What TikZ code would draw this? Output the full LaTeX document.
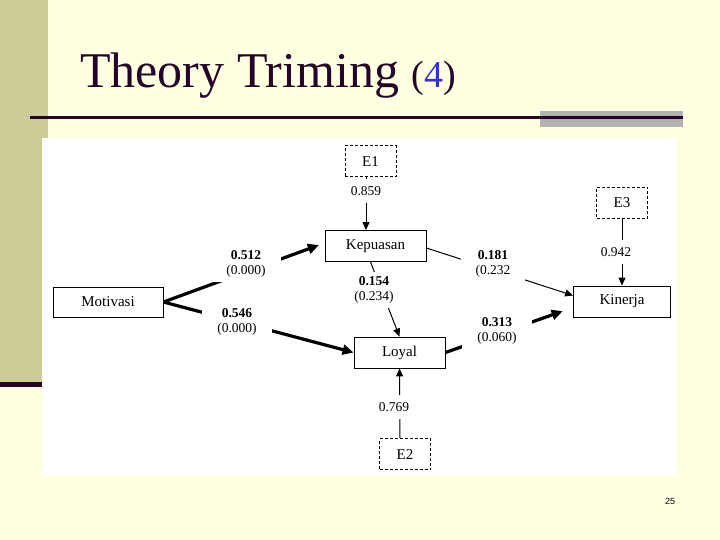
\documentclass[tikz,border=0pt]{standalone}
\usepackage{fontspec}
\setmainfont{Liberation Serif}
\setsansfont{Liberation Sans}
\usetikzlibrary{positioning,arrows.meta}

\definecolor{slidebg}{RGB}{255,255,226}
\definecolor{sidebar}{RGB}{204,204,153}
\definecolor{ink}{RGB}{36,4,40}
\definecolor{greybar}{RGB}{178,178,178}
\definecolor{numblue}{RGB}{51,51,204}

\tikzset{
  var/.style={rectangle, draw, line width=0.9pt, minimum height=31pt, font=\fontsize{15}{15}\selectfont},
  err/.style={rectangle, draw, dash pattern=on 3pt off 2pt, line width=0.8pt, minimum width=51pt, minimum height=31pt, font=\fontsize{15}{15}\selectfont},
  coef/.style={fill=white, align=center, inner xsep=15pt, inner ysep=5pt, font=\fontsize{13.5}{15}\selectfont},
  load/.style={fill=white, inner xsep=2pt, inner ysep=7pt, font=\fontsize{13.5}{15}\selectfont},
  weak/.style={line width=1pt, -{Triangle[length=8pt, width=7pt]}},
  strong/.style={line width=3.2pt, -{Triangle[length=11pt, width=10pt]}},
}

\begin{document}
\begin{tikzpicture}[x=1pt, y=-1pt]
  \useasboundingbox (0,0) rectangle (720,540);
  % slide background
  \fill[slidebg] (0,0) rectangle (720,540);
  \fill[sidebar] (0,0) rectangle (48,384);
  \fill[ink] (0,382) rectangle (48,387);
  \fill[greybar] (540,111) rectangle (683,127);
  \fill[ink] (30,116) rectangle (683,119.5);
  \fill[white] (42,138) rectangle (677,475);

  \node[anchor=base west, inner sep=0pt, text=ink, font=\fontsize{50}{60}\selectfont] (title) at (80,88)
    {Theory Triming {\fontsize{38}{40}\selectfont(\textcolor{numblue}{4})}};

  % variables
  \node[var, minimum width=110pt, minimum height=30pt] (Mot) at (108,302) {Motivasi};
  \node[var, minimum width=101pt] (Kep) at (375.5,246) {Kepuasan};
  \node[var, minimum width=97pt] (Kin) at (622,301.5) {Kinerja};
  \node[var, minimum width=91pt] (Loy) at (399.5,352.5) {Loyal};
  \node[err, above=53pt of Kep, xshift=-5pt] (E1) {E1};
  \node[err, above=67pt of Kin] (E3) {E3};
  \node[err, below=70pt of Loy, xshift=5.5pt] (E2) {E2};

  % errors
  \draw[weak] ([xshift=-4.5pt]E1.south) -- ([xshift=-9.5pt]Kep.north);
  \draw[weak] (E3) -- (Kin);
  \draw[weak] ([xshift=-5pt]E2.north) -- (Loy.south);

  % paths
  \draw[strong, shorten >=6pt] (Mot.east) -- ([yshift=3pt]Kep.west);
  \draw[strong] (Mot.east) -- (Loy.west);
  \draw[strong, shorten >=11pt] (Loy.east) -- ([yshift=-6pt]Kin.west);
  \draw[weak] ([yshift=-2pt]Kep.east) -- ([yshift=6pt]Kin.west);
  \draw[weak] ([xshift=-5pt]Kep.south) -- (Loy.north);

  % coefficients
  \node[load] (l859) at (366,191) {0.859};
  \node[load] (l942) at (616,252) {0.942};
  \node[load] (l769) at (394,407) {0.769};
  \node[coef] (l512) at (246,263.5) {\textbf{0.512}\\(0.000)};
  \node[coef] (l546) at (237,321.5) {\textbf{0.546}\\(0.000)};
  \node[coef] (l154) at (374,290) {\textbf{0.154}\\(0.234)};
  \node[coef] (l181) at (493,263.5) {\textbf{0.181}\\(0.232};
  \node[coef] (l313) at (497,330.5) {\textbf{0.313}\\(0.060)};

  \node[font=\sffamily\fontsize{9}{9}\selectfont] (page) at (670,501) {25};
\end{tikzpicture}
\end{document}
